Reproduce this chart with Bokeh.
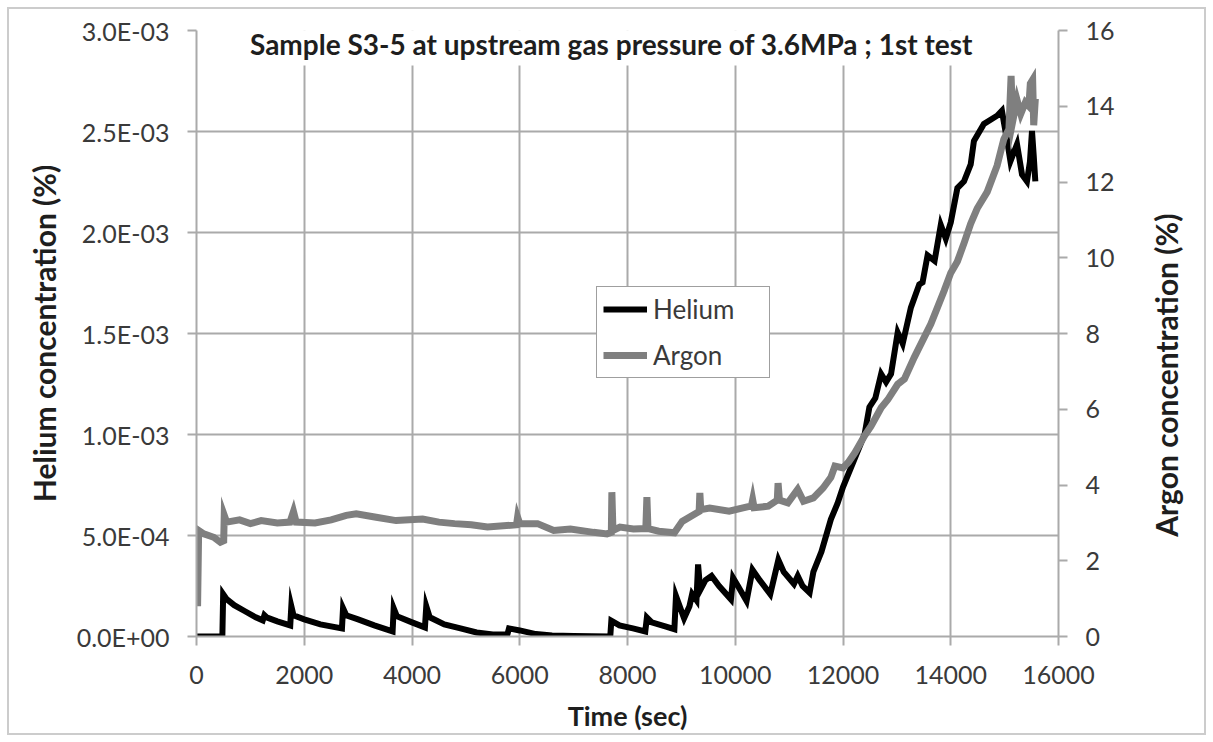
import math
from bokeh.plotting import figure
from bokeh.models import (Range1d, LinearAxis, FixedTicker, CustomJSTickFormatter,
                          Label, Legend, LegendItem)
from bokeh.embed import file_html
from bokeh.resources import INLINE

FONT = "Lato"

# ---------------- data ----------------
x_ticks = [0, 2000, 4000, 6000, 8000, 10000, 12000, 14000, 16000]
he_ticks = [0.0, 0.0005, 0.001, 0.0015, 0.002, 0.0025, 0.003]
he_tick_labels = ["0.0E+00", "5.0E-04", "1.0E-03", "1.5E-03", "2.0E-03", "2.5E-03", "3.0E-03"]
ar_ticks = [0, 2, 4, 6, 8, 10, 12, 14, 16]

title_text = "Sample S3-5 at upstream gas pressure of 3.6MPa ; 1st test"
x_title = "Time (sec)"
he_title = "Helium concentration (%)"
ar_title = "Argon concentration (%)"

# Helium concentration, time (sec) and value in units of 1E-04 %
helium_time = [0, 480, 495, 560, 700, 900, 1100, 1230, 1260, 1300, 1500, 1740, 1760, 1800,
               2000, 2300, 2700, 2720, 2780, 3000, 3300, 3640, 3660, 3720, 4000, 4240, 4265,
               4330, 4600, 4900, 5200, 5500, 5770, 5800, 6000, 6300, 6600, 7000, 7680, 7700,
               7850, 8100, 8330, 8360, 8450, 8700, 8870, 8900, 9050, 9150, 9200, 9280, 9310,
               9350, 9450, 9560, 9700, 9920, 9960, 10050, 10210, 10320, 10450, 10650, 10800,
               10900, 11090, 11160, 11250, 11380, 11450, 11600, 11775, 11900, 12000, 12200,
               12400, 12490, 12600, 12708, 12800, 12892, 13015, 13108, 13260, 13415, 13477,
               13570, 13700, 13815, 13908, 14000, 14123, 14246, 14370, 14430, 14615, 14860,
               14950, 14990, 15050, 15108, 15230, 15323, 15415, 15470, 15508, 15540, 15570]
helium_e4 = [0, 0, 2.1, 1.85, 1.55, 1.25, 0.95, 0.8, 1.05, 0.95, 0.75, 0.55, 1.5, 1.05,
             0.85, 0.6, 0.4, 1.4, 1.05, 0.85, 0.55, 0.25, 1.4, 1.0, 0.7, 0.45, 1.5,
             0.95, 0.6, 0.4, 0.2, 0.1, 0.1, 0.4, 0.3, 0.12, 0.05, 0.02, 0.0, 0.78,
             0.55, 0.4, 0.25, 0.94, 0.7, 0.5, 0.36, 2.0, 0.9, 1.5, 2.1, 1.8, 3.57,
             2.3, 2.8, 3.0, 2.5, 1.84, 2.9, 2.5, 1.76, 3.3, 2.8, 2.1, 3.8,
             3.2, 2.6, 3.0, 2.5, 2.17, 3.2, 4.2, 5.8, 6.6, 7.4, 8.7,
             10.0, 11.35, 11.8, 13.0, 12.6, 13.0, 15.05, 14.5, 16.28, 17.43, 17.53,
             18.87, 18.6, 20.37, 19.7, 20.5, 22.2, 22.53, 23.37, 24.53, 25.37, 25.78,
             26.03, 25.4, 24.5, 23.53, 24.37, 22.87, 22.53, 23.5, 25.03, 23.8, 22.53]

# Argon concentration (%), time (sec)
argon_time = [20, 40, 135, 320, 443, 505, 515, 560, 800, 1000, 1200, 1500, 1735, 1800, 1850,
              2200, 2500, 2780, 2965, 3335, 3705, 4197, 4500, 4790, 5100, 5400, 5940, 5960,
              6000, 6330, 6630, 6940, 7370, 7620, 7700, 7710, 7730, 7860, 8110, 8340, 8360,
              8380, 8580, 8870, 9016, 9234, 9330, 9343, 9360, 9525, 9887, 10300, 10323,
              10350, 10613, 10780, 10795, 10820, 10977, 11158, 11267, 11450, 11630, 11775,
              11850, 12000, 12100, 12220, 12400, 12520, 12708, 12830, 13015, 13140, 13323,
              13630, 13877, 14000, 14123, 14250, 14370, 14490, 14677, 14860, 14985, 15080,
              15120, 15150, 15230, 15300, 15385, 15450, 15477, 15520, 15540, 15570]
argon_pct = [0.8, 2.8, 2.71, 2.62, 2.49, 2.53, 3.2, 3.02, 3.08, 2.98, 3.06, 3.0, 3.02, 3.3, 3.02,
             3.0, 3.08, 3.2, 3.24, 3.15, 3.06, 3.1, 3.02, 2.98, 2.95, 2.89, 2.95, 3.15,
             2.98, 2.98, 2.8, 2.84, 2.75, 2.71, 2.75, 3.81, 2.8, 2.89, 2.84, 2.85, 3.68,
             2.85, 2.78, 2.74, 3.04, 3.22, 3.3, 3.79, 3.35, 3.39, 3.31, 3.45, 3.61,
             3.4, 3.44, 3.6, 4.05, 3.6, 3.53, 3.88, 3.57, 3.66, 3.92, 4.2,
             4.5, 4.45, 4.6, 4.85, 5.3, 5.55, 6.04, 6.25, 6.66, 6.8, 7.37,
             8.25, 9.13, 9.6, 9.9, 10.4, 10.9, 11.3, 11.74, 12.43, 13.13, 13.4,
             14.8, 13.6, 14.17, 13.8, 14.1, 14.0, 14.6, 14.7, 13.5, 14.2]

assert len(helium_time) == len(helium_e4)
assert len(argon_time) == len(argon_pct)
helium_pct = [v * 1e-4 for v in helium_e4]

# ---------------- figure ----------------
GRID = "#aaaaaa"
TICK_TXT = "#3a3a3a"
LBL_TXT = "#1e1e1e"

p = figure(width=1213, height=742, output_backend="svg", toolbar_location=None,
           x_range=Range1d(0, 16000), y_range=Range1d(0, 0.003),
           min_border_left=196, min_border_right=155, min_border_top=30, min_border_bottom=106)
p.outline_line_color = None
p.background_fill_color = "white"
p.border_fill_color = "white"
# thin outer chart-area frame (pure CSS decoration)
p.stylesheets = [":host { position: relative; } "
                 ":host::after { content: ''; position: absolute; left: 7px; top: 7px; "
                 "right: 7px; bottom: 7px; border: 2px solid #cccccc; "
                 "pointer-events: none; z-index: 10; }"]

p.extra_y_ranges = {"argon": Range1d(0, 16)}

# grids
p.xgrid.ticker = FixedTicker(ticks=x_ticks)
p.ygrid.ticker = FixedTicker(ticks=he_ticks)
for g in (p.xgrid, p.ygrid):
    g.grid_line_color = GRID
    g.grid_line_width = 2

# bottom axis
xa = p.xaxis[0]
xa.ticker = FixedTicker(ticks=x_ticks)
xa.axis_label = x_title

# left axis
ya = p.yaxis[0]
ya.ticker = FixedTicker(ticks=he_ticks)
ya.formatter = CustomJSTickFormatter(args=dict(tv=he_ticks, tl=he_tick_labels), code="""
let best = -1, bd = 1e9;
for (let i = 0; i < tv.length; i++) { const d = Math.abs(tv[i] - tick); if (d < bd) { bd = d; best = i; } }
return bd < 1e-9 ? tl[best] : '';
""")
ya.axis_label = he_title

# right axis (its title is drawn as a rotated label reading bottom-to-top)
ra = LinearAxis(y_range_name="argon", ticker=FixedTicker(ticks=ar_ticks))
p.add_layout(ra, "right")

for ax in (xa, ya, ra):
    ax.axis_line_color = GRID
    ax.axis_line_width = 2
    ax.major_tick_line_color = GRID
    ax.major_tick_line_width = 2
    ax.major_tick_out = 9
    ax.major_tick_in = 0
    ax.minor_tick_line_color = None
    ax.major_label_text_font = FONT
    ax.major_label_text_font_size = "25px"
    ax.major_label_text_color = TICK_TXT
    ax.axis_label_text_font = FONT
    ax.axis_label_text_font_style = "bold"
    ax.axis_label_text_color = LBL_TXT

xa.axis_label_text_font_size = "27px"
ya.axis_label_text_font_size = "30px"

xa.major_label_standoff = 20
xa.axis_label_standoff = 12
ya.major_label_standoff = 18
ya.axis_label_standoff = 12
ra.major_label_standoff = 18

# data lines
r_he = p.line(helium_time, helium_pct, line_color="black", line_width=6, line_join="miter")
r_ar = p.line(argon_time, argon_pct, y_range_name="argon", line_color="#7f7f7f",
              line_width=7, line_join="miter")

# right axis title, placed in the right side panel
ar_label = Label(x=16000, y=6.9, y_range_name="argon", x_offset=107, text=ar_title,
                 angle=math.pi / 2, text_align="center", text_baseline="middle",
                 text_font=FONT, text_font_size="30px", text_font_style="bold",
                 text_color=LBL_TXT)
p.add_layout(ar_label, "right")

# chart title inside the plot area with white background
title = Label(x=8000, y=0.003, x_offset=-16, y_offset=9, text=title_text,
              text_align="center", text_baseline="top",
              text_font=FONT, text_font_size="28px", text_font_style="bold",
              text_color=LBL_TXT, background_fill_color="white", padding=5)
p.add_layout(title)

legend = Legend(items=[LegendItem(label="Helium", renderers=[r_he]),
                       LegendItem(label="Argon", renderers=[r_ar])],
                location=(400, 258), margin=0, padding=6, spacing=14,
                glyph_width=44, glyph_height=30, label_height=30, label_width=110,
                label_standoff=6, label_text_font=FONT, label_text_font_size="26px",
                label_text_color=TICK_TXT, border_line_color="#404040",
                border_line_width=1.5, background_fill_color="white",
                background_fill_alpha=1.0)
p.add_layout(legend)

open("out.html", "w").write(file_html(p, INLINE))
